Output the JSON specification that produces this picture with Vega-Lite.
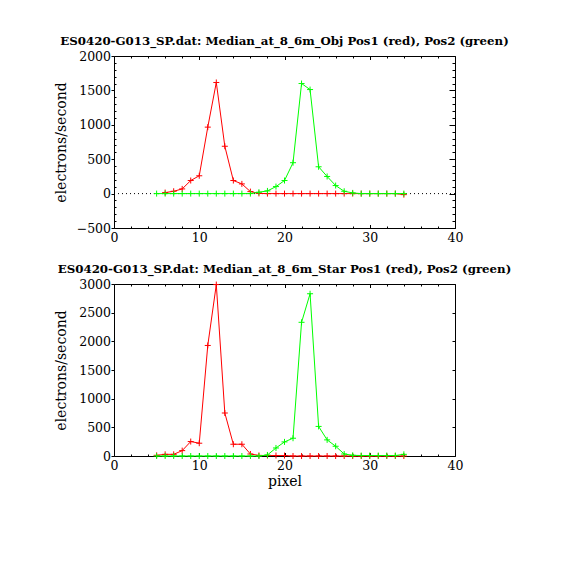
{
  "$schema": "https://vega.github.io/schema/vega-lite/v6.json",
  "autosize": {"type": "none"},
  "padding": {"left": 114, "top": 56, "right": 115, "bottom": 514},
  "background": "white",
  "bounds": "flush",
  "spacing": 56,
  "config": {
    "view": {"stroke": "black", "strokeWidth": 1},
    "axis": {
      "domain": false, "grid": false, "labelFont": "DejaVu Serif", "labelFontSize": 12.5,
      "labelColor": "black", "tickColor": "black", "tickWidth": 1, "labelOverlap": false, "format": "d",
      "labelFlush": false, "titleFont": "DejaVu Serif", "titleFontSize": 14, "titleFontWeight": "normal", "titleColor": "black"
    },
    "title": {"font": "DejaVu Serif", "fontSize": 11.8, "fontWeight": "bold", "color": "black", "anchor": "middle", "frame": "group", "baseline": "alphabetic", "offset": 2.5}
  },
  "datasets": {
    "topRed": [
      {"x": 6, "y": 15}, {"x": 7, "y": 34}, {"x": 8, "y": 68}, {"x": 9, "y": 190}, {"x": 10, "y": 259},
      {"x": 11, "y": 966}, {"x": 12, "y": 1615}, {"x": 13, "y": 688}, {"x": 14, "y": 190}, {"x": 15, "y": 141},
      {"x": 16, "y": 29}, {"x": 17, "y": 3}, {"x": 18, "y": 0}, {"x": 19, "y": 0}, {"x": 20, "y": 0},
      {"x": 21, "y": 0}, {"x": 22, "y": 0}, {"x": 23, "y": 0}, {"x": 24, "y": 0}, {"x": 25, "y": 0},
      {"x": 26, "y": 0}, {"x": 27, "y": 0}, {"x": 28, "y": 0}, {"x": 29, "y": 0}, {"x": 30, "y": 0},
      {"x": 31, "y": 0}, {"x": 32, "y": 0}, {"x": 33, "y": 0}, {"x": 34, "y": -15}
    ],
    "topGreen": [
      {"x": 5, "y": 0}, {"x": 6, "y": 0}, {"x": 7, "y": 0}, {"x": 8, "y": 0}, {"x": 9, "y": 0},
      {"x": 10, "y": 0}, {"x": 11, "y": 0}, {"x": 12, "y": 0}, {"x": 13, "y": 0}, {"x": 14, "y": 0},
      {"x": 15, "y": 0}, {"x": 16, "y": 0}, {"x": 17, "y": 20}, {"x": 18, "y": 39}, {"x": 19, "y": 102},
      {"x": 20, "y": 190}, {"x": 21, "y": 449}, {"x": 22, "y": 1600}, {"x": 23, "y": 1512}, {"x": 24, "y": 390},
      {"x": 25, "y": 249}, {"x": 26, "y": 117}, {"x": 27, "y": 34}, {"x": 28, "y": 10}, {"x": 29, "y": 0},
      {"x": 30, "y": 0}, {"x": 31, "y": 0}, {"x": 32, "y": 0}, {"x": 33, "y": 0}, {"x": 34, "y": 0}
    ],
    "botRed": [
      {"x": 5, "y": 12}, {"x": 6, "y": 29}, {"x": 7, "y": 29}, {"x": 8, "y": 94}, {"x": 9, "y": 252},
      {"x": 10, "y": 223}, {"x": 11, "y": 1928}, {"x": 12, "y": 2990}, {"x": 13, "y": 750}, {"x": 14, "y": 205},
      {"x": 15, "y": 205}, {"x": 16, "y": 35}, {"x": 17, "y": 10}, {"x": 18, "y": 8}, {"x": 19, "y": 8},
      {"x": 20, "y": 8}, {"x": 21, "y": 0}, {"x": 22, "y": 0}, {"x": 23, "y": 0}, {"x": 24, "y": 0},
      {"x": 25, "y": 0}, {"x": 26, "y": 0}, {"x": 27, "y": 0}, {"x": 28, "y": 0}, {"x": 29, "y": 0},
      {"x": 30, "y": 0}, {"x": 31, "y": 0}, {"x": 32, "y": 0}, {"x": 33, "y": 0}, {"x": 34, "y": 0}
    ],
    "botGreen": [
      {"x": 5, "y": 0}, {"x": 6, "y": 0}, {"x": 7, "y": 0}, {"x": 8, "y": 0}, {"x": 9, "y": 0},
      {"x": 10, "y": 0}, {"x": 11, "y": 0}, {"x": 12, "y": 0}, {"x": 13, "y": 0}, {"x": 14, "y": 0},
      {"x": 15, "y": 0}, {"x": 16, "y": 0}, {"x": 17, "y": 0}, {"x": 18, "y": 18}, {"x": 19, "y": 140},
      {"x": 20, "y": 246}, {"x": 21, "y": 310}, {"x": 22, "y": 2332}, {"x": 23, "y": 2830}, {"x": 24, "y": 516},
      {"x": 25, "y": 281}, {"x": 26, "y": 170}, {"x": 27, "y": 35}, {"x": 28, "y": 12}, {"x": 29, "y": 8},
      {"x": 30, "y": 8}, {"x": 31, "y": 8}, {"x": 32, "y": 8}, {"x": 33, "y": 8}, {"x": 34, "y": 29}
    ]
  },
  "vconcat": [
    {
      "width": 341, "height": 172,
      "title": {"text": "ES0420-G013_SP.dat: Median_at_8_6m_Obj Pos1 (red), Pos2 (green)"},
      "layer": [
        {
          "data": {"values": [{}]},
          "mark": {"type": "rule", "color": "black", "strokeDash": [1, 3], "strokeWidth": 1},
          "encoding": {"y": {"datum": 0, "type": "quantitative", "scale": {"domain": [-500, 2000], "nice": false, "zero": false}, "axis": null}}
        },
        {
          "data": {"name": "topRed"},
          "mark": {"type": "line", "color": "#ff0000", "strokeWidth": 1},
          "encoding": {
            "x": {"field": "x", "type": "quantitative", "scale": {"domain": [0, 40], "nice": false},
              "axis": {"orient": "bottom", "title": null, "values": [0,2,4,6,8,10,12,14,16,18,20,22,24,26,28,30,32,34,36,38,40],
                "labelExpr": "datum.value % 10 === 0 ? datum.label : ''",
                "tickSize": {"condition": {"test": "datum.value % 10 === 0", "value": -3.5}, "value": -2},
                "labelPadding": 6.5}},
            "y": {"field": "y", "type": "quantitative", "scale": {"domain": [-500, 2000], "nice": false, "zero": false},
              "axis": {"orient": "left", "title": "electrons/second", "titleX": -49, "titleY": 86, "titleAlign": "center", "titleBaseline": "alphabetic",
                "values": [-500,-400,-300,-200,-100,0,100,200,300,400,500,600,700,800,900,1000,1100,1200,1300,1400,1500,1600,1700,1800,1900,2000],
                "labelExpr": "datum.value % 500 === 0 ? datum.label : ''",
                "tickSize": {"condition": {"test": "datum.value % 500 === 0", "value": 3}, "value": -2},
                "labelPadding": 0.5}}
          }
        },
        {
          "data": {"name": "topRed"},
          "mark": {"type": "point", "shape": "M-1,0H1M0,-1V1", "filled": false, "color": "#ff0000", "size": 36, "strokeWidth": 1, "opacity": 1},
          "encoding": {"x": {"field": "x", "type": "quantitative", "axis": null}, "y": {"field": "y", "type": "quantitative", "axis": null}}
        },
        {
          "data": {"name": "topGreen"},
          "mark": {"type": "line", "color": "#00ff00", "strokeWidth": 1},
          "encoding": {
            "x": {"field": "x", "type": "quantitative",
              "axis": {"orient": "top", "title": null, "labels": false, "values": [0,2,4,6,8,10,12,14,16,18,20,22,24,26,28,30,32,34,36,38,40],
                "tickSize": {"condition": {"test": "datum.value % 10 === 0", "value": -3.5}, "value": -2}}},
            "y": {"field": "y", "type": "quantitative",
              "axis": {"orient": "right", "title": null, "labels": false,
                "values": [-500,-400,-300,-200,-100,0,100,200,300,400,500,600,700,800,900,1000,1100,1200,1300,1400,1500,1600,1700,1800,1900,2000],
                "tickSize": {"condition": {"test": "datum.value % 500 === 0", "value": -6}, "value": -3}}}
          }
        },
        {
          "data": {"name": "topGreen"},
          "mark": {"type": "point", "shape": "M-1,0H1M0,-1V1", "filled": false, "color": "#00ff00", "size": 36, "strokeWidth": 1, "opacity": 1},
          "encoding": {"x": {"field": "x", "type": "quantitative", "axis": null}, "y": {"field": "y", "type": "quantitative", "axis": null}}
        }
      ]
    },
    {
      "width": 341, "height": 172,
      "title": {"text": "ES0420-G013_SP.dat: Median_at_8_6m_Star Pos1 (red), Pos2 (green)"},
      "layer": [
        {
          "data": {"name": "botRed"},
          "mark": {"type": "line", "color": "#ff0000", "strokeWidth": 1},
          "encoding": {
            "x": {"field": "x", "type": "quantitative", "scale": {"domain": [0, 40], "nice": false},
              "axis": {"orient": "bottom", "title": "pixel", "titleY": 29.5, "titleBaseline": "alphabetic",
                "values": [0,2,4,6,8,10,12,14,16,18,20,22,24,26,28,30,32,34,36,38,40],
                "labelExpr": "datum.value % 10 === 0 ? datum.label : ''",
                "tickSize": {"condition": {"test": "datum.value % 10 === 0", "value": -3.5}, "value": -2},
                "labelPadding": 6.5}},
            "y": {"field": "y", "type": "quantitative", "scale": {"domain": [0, 3000], "nice": false},
              "axis": {"orient": "left", "title": "electrons/second", "titleX": -49, "titleY": 86, "titleAlign": "center", "titleBaseline": "alphabetic",
                "values": [0,500,1000,1500,2000,2500,3000], "tickSize": 3, "labelPadding": 0.5}}
          }
        },
        {
          "data": {"name": "botRed"},
          "mark": {"type": "point", "shape": "M-1,0H1M0,-1V1", "filled": false, "color": "#ff0000", "size": 36, "strokeWidth": 1, "opacity": 1},
          "encoding": {"x": {"field": "x", "type": "quantitative", "axis": null}, "y": {"field": "y", "type": "quantitative", "axis": null}}
        },
        {
          "data": {"name": "botGreen"},
          "mark": {"type": "line", "color": "#00ff00", "strokeWidth": 1},
          "encoding": {
            "x": {"field": "x", "type": "quantitative",
              "axis": {"orient": "top", "title": null, "labels": false, "values": [0,2,4,6,8,10,12,14,16,18,20,22,24,26,28,30,32,34,36,38,40],
                "tickSize": {"condition": {"test": "datum.value % 10 === 0", "value": -3.5}, "value": -2}}},
            "y": {"field": "y", "type": "quantitative",
              "axis": {"orient": "right", "title": null, "labels": false, "values": [0,500,1000,1500,2000,2500,3000], "tickSize": -3}}
          }
        },
        {
          "data": {"name": "botGreen"},
          "mark": {"type": "point", "shape": "M-1,0H1M0,-1V1", "filled": false, "color": "#00ff00", "size": 36, "strokeWidth": 1, "opacity": 1},
          "encoding": {"x": {"field": "x", "type": "quantitative", "axis": null}, "y": {"field": "y", "type": "quantitative", "axis": null}}
        }
      ]
    }
  ]
}
